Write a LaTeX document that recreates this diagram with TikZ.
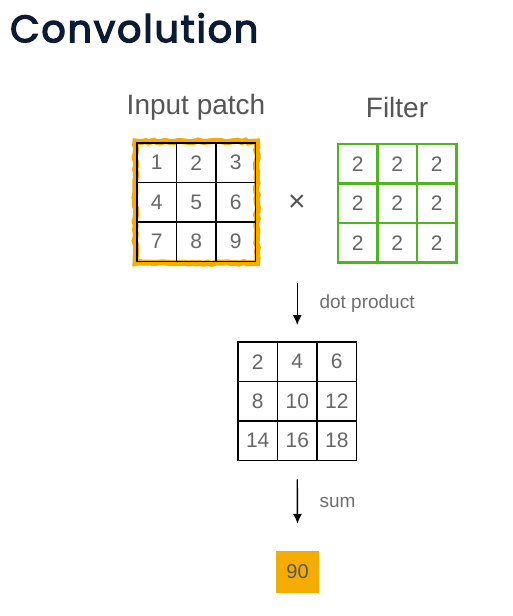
\documentclass[tikz,border=0pt]{standalone}
\usepackage{fontspec}
\setmainfont{Liberation Sans}
\newfontfamily\titlefont[FakeBold=3.5, LetterSpace=5]{Poppins}
\usetikzlibrary{arrows.meta,decorations.pathmorphing}

\definecolor{navy}{HTML}{0B1B33}
\definecolor{patchorange}{HTML}{F4AC00}
\definecolor{filtergreen}{HTML}{4DB51F}
\definecolor{numgray}{HTML}{666666}
\definecolor{labelgray}{HTML}{555555}

\tikzset{
  cell/.style={draw, line width=1.9pt, minimum size=39.5pt, inner sep=0pt, text=numgray, font=\fontsize{21}{21}\selectfont},
  greencell/.style={cell, draw=filtergreen, line width=2.2pt},
  heading/.style={text=labelgray, font=\fontsize{28}{28}\selectfont},
  note/.style={text=labelgray!85, font=\fontsize{19}{19}\selectfont, anchor=west},
  flow/.style={-{Latex[length=10pt,width=9pt]}, line width=1.4pt},
}

\begin{document}
\begin{tikzpicture}[x=1pt, y=-1pt]
\useasboundingbox (0,0) rectangle (512,616);

% title
\node[anchor=north west, inner sep=0pt, text=navy, font=\titlefont\fontsize{38}{38}\selectfont] (title) at (10,13) {Convolution};

% headings
\node[heading] (patchlbl) at (196,107) {Input patch};
\node[heading] (filtlbl) at (397,107) {Filter};

% hand drawn highlight round the patch
\draw[patchorange, line width=6pt, decorate, decoration={random steps, segment length=4pt, amplitude=1pt}] (135.5,141.5) rectangle (257,263);

% the three grids
\foreach \r in {1,2,3}{
  \foreach \c in {1,2,3}{
    \pgfmathtruncatemacro{\n}{3*(\r-1)+\c}
    \pgfmathtruncatemacro{\m}{2*\n}
    \node[cell] (in-\r-\c) at ({137+39.5*(\c-0.5)},{143+39.5*(\r-0.5)}) {\n};
    \node[greencell] (filt-\r-\c) at ({338+39.5*(\c-0.5)},{144+39.5*(\r-0.5)}) {2};
    \node[cell] (res-\r-\c) at ({238+39.5*(\c-0.5)},{342+39.5*(\r-0.5)}) {\m};
  }
}

\node[text=labelgray, font=\fontsize{30}{30}\selectfont] (times) at (297,203) {×};

% dot product
\coordinate (dottop) at (297.25,283);
\draw[flow] (dottop) -- ([yshift=16pt]res-1-2.north);
\node[note] (dotlbl) at (316,304) {dot product};

% sum
\node[fill=patchorange, minimum width=43pt, minimum height=42pt, inner sep=0pt, text=labelgray, font=\fontsize{20}{20}\selectfont] (total) at (297.5,572) {90};
\draw[flow] ([yshift=-18pt]res-3-2.south) -- ([yshift=27pt]total.north);
\node[note] (sumlbl) at (316,502) {sum};
\end{tikzpicture}
\end{document}
